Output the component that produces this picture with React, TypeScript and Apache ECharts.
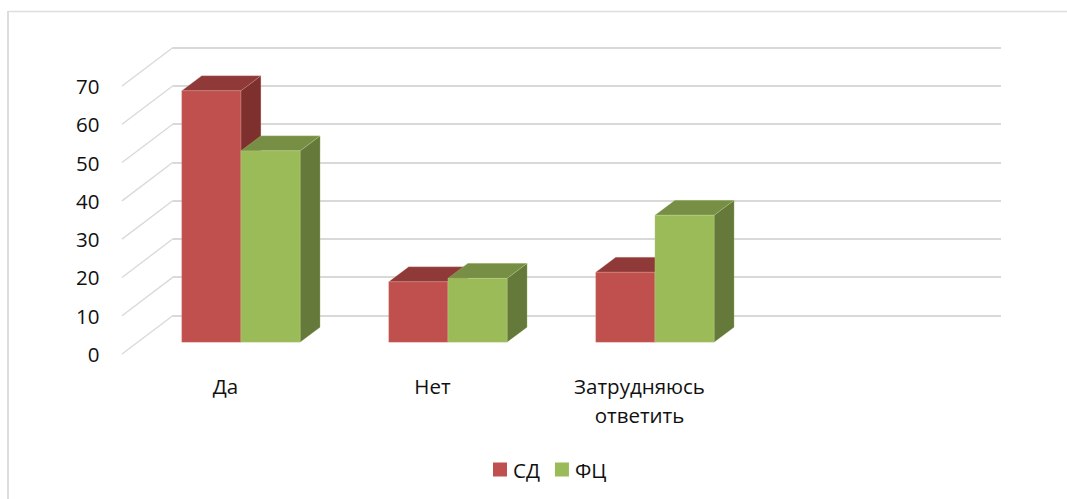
import React, { useEffect, useRef } from "react";
import * as echarts from "echarts";

const categories = ["Да", "Нет", "Затрудняюсь\nответить", ""];
const seriesNames = ["СД", "ФЦ"];
const sdValues = [65.7, 15.8, 18.3, null];
const fcValues = [50, 16.7, 33.2, null];
const yTicks = [0, 10, 20, 30, 40, 50, 60, 70];

const FONT = "'Open Sans', sans-serif";
const TEXT = "#111111";
const GRID = "#D9D9D9";
// projection of the depth axis, in pixels
const WALL_DX = 51;
const WALL_DY = -38.6;
const BAR_FLOOR_DX = 15.4;
const BAR_FLOOR_DY = -11.7;
const BAR_DEPTH_DX = 20;
const BAR_DEPTH_DY = -15;
const BAR_W = 59.2;

const barRenderer = (slot: number, front: string, top: string, side: string, edge: string) =>
  (params: any, api: any) => {
    const cat = api.value(0);
    const val = api.value(1);
    const p = api.coord([cat, val]);
    const z = api.coord([cat, 0]);
    const x0 = p[0] + BAR_FLOOR_DX + (slot - 1) * BAR_W;
    const x1 = x0 + BAR_W;
    const yt = p[1] + BAR_FLOOR_DY;
    const yb = z[1] + BAR_FLOOR_DY;
    const dx = BAR_DEPTH_DX;
    const dy = BAR_DEPTH_DY;
    const poly = (points: number[][], fill: string) => ({
      type: "polygon",
      shape: { points },
      style: { fill, stroke: edge, lineWidth: 0.4 },
    });
    return {
      type: "group",
      children: [
        poly([[x1, yt], [x1 + dx, yt + dy], [x1 + dx, yb + dy], [x1, yb]], side),
        poly([[x0, yt], [x0 + dx, yt + dy], [x1 + dx, yt + dy], [x1, yt]], top),
        poly([[x0, yt], [x1, yt], [x1, yb], [x0, yb]], front),
      ],
    };
  };

const diagonalRenderer = (params: any, api: any) => {
  const p = api.coord([0, api.value(0)]);
  const left = p[0] - api.size([1, 0])[0] / 2;
  return {
    type: "line",
    shape: { x1: left, y1: p[1], x2: left + WALL_DX, y2: p[1] + WALL_DY },
    style: { stroke: GRID, lineWidth: 1.3 },
    silent: true,
  };
};

export default function App() {
  const ref = useRef<HTMLDivElement>(null);
  useEffect(() => {
    const chart = echarts.init(ref.current!, undefined, { renderer: "svg" });
    chart.setOption({
      animation: false,
      backgroundColor: "#ffffff",
      graphic: [
        { type: "line", silent: true, shape: { x1: 8, y1: 11.5, x2: 1067, y2: 11.5 }, style: { stroke: "#DDDDDD", lineWidth: 1.3 } },
        { type: "line", silent: true, shape: { x1: 8, y1: 11, x2: 8, y2: 499 }, style: { stroke: "#DDDDDD", lineWidth: 2 } },
      ],
      legend: {
        data: seriesNames,
        left: 493,
        top: 459,
        padding: 0,
        itemWidth: 14,
        itemHeight: 14,
        itemGap: 15,
        textStyle: { fontFamily: FONT, fontSize: 20.5, color: TEXT, padding: [0, 0, 0, 1] },
        icon: "rect",
      },
      grid: [
        { left: 122, top: 86, width: 828, height: 268 },
        { left: 172.7, top: 47.7, width: 828.3, height: 267.6 },
      ],
      xAxis: [
        {
          type: "category",
          gridIndex: 0,
          data: categories,
          axisLine: { show: false },
          axisTick: { show: false },
          axisLabel: { fontFamily: FONT, fontSize: 20.5, color: TEXT, margin: 17, lineHeight: 29, interval: 0 },
        },
        { type: "category", gridIndex: 1, data: categories, show: false },
      ],
      yAxis: [
        {
          type: "value",
          gridIndex: 0,
          min: 0,
          max: 70,
          interval: 10,
          axisLine: { show: false },
          axisTick: { show: false },
          splitLine: { show: false },
          axisLabel: { fontFamily: FONT, fontSize: 20.5, color: TEXT, margin: 22.5 },
        },
        {
          type: "value",
          gridIndex: 1,
          min: 0,
          max: 70,
          interval: 10,
          axisLine: { show: false },
          axisTick: { show: false },
          axisLabel: { show: false },
          splitLine: { show: true, lineStyle: { color: GRID, width: 2 } },
        },
      ],
      series: [
        {
          type: "custom",
          name: "__walls",
          xAxisIndex: 0,
          yAxisIndex: 0,
          coordinateSystem: "cartesian2d",
          renderItem: diagonalRenderer,
          data: yTicks.map((t) => [t]),
          encode: { y: 0 },
          silent: true,
          clip: false,
        },
        {
          type: "custom",
          name: seriesNames[0],
          xAxisIndex: 0,
          yAxisIndex: 0,
          renderItem: barRenderer(0, "#C0504D", "#8F3A38", "#7D302E", "rgba(235,170,165,0.6)"),
          data: sdValues.map((v, i) => [i, v]).filter((d) => d[1] !== null),
          encode: { x: 0, y: 1 },
          itemStyle: { color: "#C0504D" },
          clip: false,
        },
        {
          type: "custom",
          name: seriesNames[1],
          xAxisIndex: 0,
          yAxisIndex: 0,
          renderItem: barRenderer(1, "#9BBB59", "#778F45", "#65793A", "rgba(200,220,150,0.6)"),
          data: fcValues.map((v, i) => [i, v]).filter((d) => d[1] !== null),
          encode: { x: 0, y: 1 },
          itemStyle: { color: "#9BBB59" },
          clip: false,
        },
      ],
    });
    return () => chart.dispose();
  }, []);
  return <div ref={ref} style={{ position: "fixed", left: 0, top: 0, width: 1067, height: 499 }} />;
}
